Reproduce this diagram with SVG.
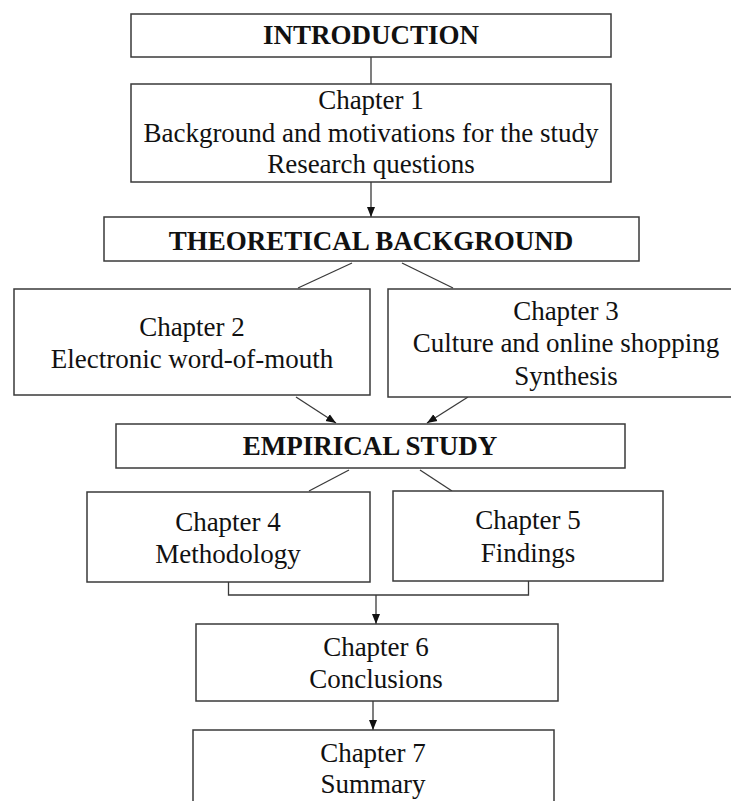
<svg xmlns="http://www.w3.org/2000/svg" width="731" height="801" viewBox="0 0 731 801">
  <style>
    .box { fill: #ffffff; stroke: #3a3a3a; stroke-width: 1.5; }
    .conn { fill: none; stroke: #3a3a3a; stroke-width: 1.3; }
    .t { font-family: "Liberation Serif", "Times New Roman", serif; font-size: 27px; fill: #111; text-anchor: middle; }
    .h { font-weight: bold; }
  </style>
  <defs>
    <marker id="arrow" markerUnits="userSpaceOnUse" markerWidth="10" markerHeight="10" refX="10" refY="5" orient="auto">
      <path d="M0,1 L10,5 L0,9 z" fill="#111"/>
    </marker>
  </defs>
  <rect width="731" height="801" fill="#ffffff"/>

  <g id="connectors">
    <line class="conn" x1="371" y1="57" x2="371" y2="84"/>
    <line class="conn" x1="371" y1="182" x2="371" y2="217" marker-end="url(#arrow)"/>
    <line class="conn" x1="352" y1="263" x2="298" y2="288"/>
    <line class="conn" x1="402" y1="263" x2="453" y2="288"/>
    <line class="conn" x1="296" y1="397" x2="336" y2="423" marker-end="url(#arrow)"/>
    <line class="conn" x1="468" y1="397" x2="427" y2="423" marker-end="url(#arrow)"/>
    <line class="conn" x1="349" y1="470" x2="309" y2="491"/>
    <line class="conn" x1="420" y1="470" x2="452" y2="491"/>
    <polyline class="conn" points="228.5,582 228.5,595 528.5,595 528.5,581"/>
    <line class="conn" x1="376" y1="595" x2="376" y2="624" marker-end="url(#arrow)"/>
    <line class="conn" x1="373" y1="701" x2="373" y2="730" marker-end="url(#arrow)"/>
  </g>

  <g id="introduction">
    <rect class="box" x="131" y="14" width="480" height="43"/>
    <text class="t h" x="371" y="44">INTRODUCTION</text>
  </g>

  <g id="chapter1">
    <rect class="box" x="131" y="84" width="480" height="98"/>
    <text class="t" x="371" y="109">Chapter 1</text>
    <text class="t" x="371" y="142">Background and motivations for the study</text>
    <text class="t" x="371" y="173">Research questions</text>
  </g>

  <g id="theoretical">
    <rect class="box" x="104" y="217" width="535" height="44"/>
    <text class="t h" x="371" y="250">THEORETICAL BACKGROUND</text>
  </g>

  <g id="chapter2">
    <rect class="box" x="14" y="289" width="356" height="106"/>
    <text class="t" x="192" y="336">Chapter 2</text>
    <text class="t" x="192" y="368">Electronic word-of-mouth</text>
  </g>

  <g id="chapter3">
    <rect class="box" x="388" y="289" width="346" height="108"/>
    <text class="t" x="566" y="320">Chapter 3</text>
    <text class="t" x="566" y="352">Culture and online shopping</text>
    <text class="t" x="566" y="385">Synthesis</text>
  </g>

  <g id="empirical">
    <rect class="box" x="116" y="424" width="509" height="44"/>
    <text class="t h" x="370" y="455">EMPIRICAL STUDY</text>
  </g>

  <g id="chapter4">
    <rect class="box" x="87" y="492" width="283" height="90"/>
    <text class="t" x="228" y="531">Chapter 4</text>
    <text class="t" x="228" y="563">Methodology</text>
  </g>

  <g id="chapter5">
    <rect class="box" x="393" y="491" width="270" height="90"/>
    <text class="t" x="528" y="529">Chapter 5</text>
    <text class="t" x="528" y="562">Findings</text>
  </g>

  <g id="chapter6">
    <rect class="box" x="196" y="624" width="362" height="77"/>
    <text class="t" x="376" y="656">Chapter 6</text>
    <text class="t" x="376" y="688">Conclusions</text>
  </g>

  <g id="chapter7">
    <rect class="box" x="193" y="730" width="361" height="80"/>
    <text class="t" x="373" y="762">Chapter 7</text>
    <text class="t" x="373" y="793">Summary</text>
  </g>
</svg>
